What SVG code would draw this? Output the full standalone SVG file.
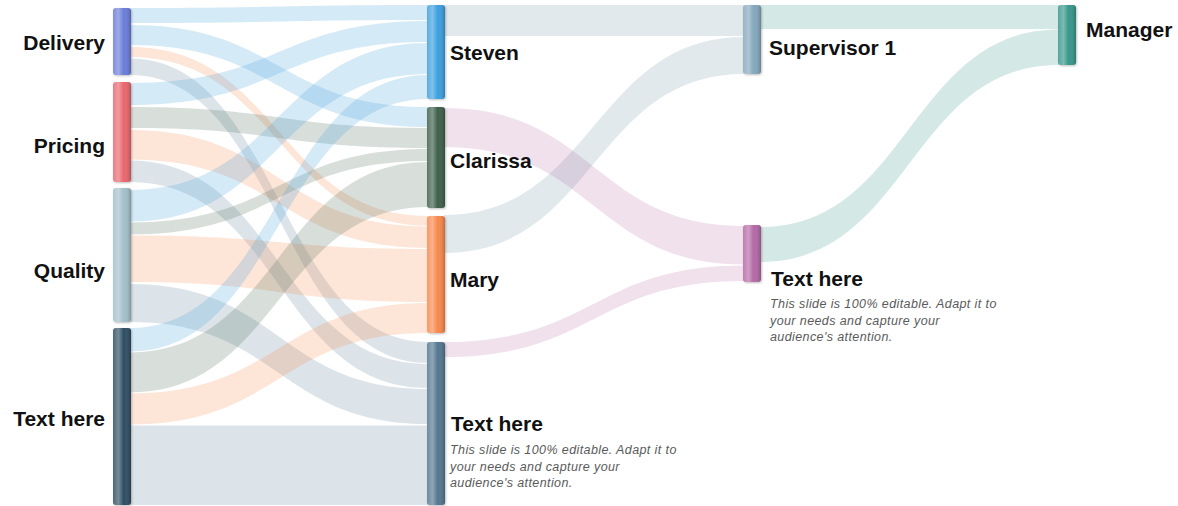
<svg xmlns="http://www.w3.org/2000/svg" width="1178" height="506" viewBox="0 0 1178 506">
<style>
.lbl{font-family:"Liberation Sans",Arial,sans-serif;font-weight:bold;font-size:21px;fill:#111}
.desc{font-family:"Liberation Sans",Arial,sans-serif;font-style:italic;font-size:12.5px;fill:#5a5a5a;letter-spacing:0.4px}
.blue{fill:#3ea1dc;fill-opacity:0.22}
.green{fill:#3e5f4a;fill-opacity:0.2}
.peach{fill:#f58a4f;fill-opacity:0.22}
.grey{fill:#56788f;fill-opacity:0.2}
.sup{fill:#9db5c4;fill-opacity:0.3}
.pink{fill:#b46aa6;fill-opacity:0.2}
.teal{fill:#3a9b8e;fill-opacity:0.22}
.shine{fill:url(#shine)}
</style>
<defs>
<linearGradient id="shine" x1="0" y1="0" x2="1" y2="0">
<stop offset="0" stop-color="#fff" stop-opacity="0.15"/>
<stop offset="0.3" stop-color="#fff" stop-opacity="0.35"/>
<stop offset="0.6" stop-color="#fff" stop-opacity="0"/>
<stop offset="1" stop-color="#000" stop-opacity="0.22"/>
</linearGradient>
<filter id="sh" x="-50%" y="-10%" width="200%" height="120%">
<feDropShadow dx="1" dy="1" stdDeviation="1" flood-color="#000" flood-opacity="0.25"/>
</filter>
</defs>
<g id="connectors">
<path class="blue" d="M130,8 C279,8 279,5 428,5 L428,20 C279,20 279,23 130,23 Z"/>
<path class="blue" d="M130,25 C279,25 279,107 428,107 L428,127 C279,127 279,45 130,45 Z"/>
<path class="peach" d="M130,47 C279,47 279,216 428,216 L428,225.5 C279,225.5 279,57 130,57 Z"/>
<path class="grey" d="M130,58.5 C279,58.5 279,342 428,342 L428,363 C279,363 279,75 130,75 Z"/>
<path class="blue" d="M130,83 C279,83 279,21 428,21 L428,42 C279,42 279,105 130,105 Z"/>
<path class="green" d="M130,107 C279,107 279,128 428,128 L428,148 C279,148 279,128 130,128 Z"/>
<path class="peach" d="M130,130 C279,130 279,226.5 428,226.5 L428,248 C279,248 279,159.5 130,159.5 Z"/>
<path class="grey" d="M130,160.5 C279,160.5 279,364 428,364 L428,388 C279,388 279,182 130,182 Z"/>
<path class="blue" d="M130,190 C279,190 279,43 428,43 L428,74 C279,74 279,221.5 130,221.5 Z"/>
<path class="green" d="M130,222.5 C279,222.5 279,149 428,149 L428,161 C279,161 279,234.5 130,234.5 Z"/>
<path class="peach" d="M130,235.5 C279,235.5 279,249 428,249 L428,302 C279,302 279,282 130,282 Z"/>
<path class="grey" d="M130,284 C279,284 279,389 428,389 L428,424 C279,424 279,322 130,322 Z"/>
<path class="blue" d="M130,328 C279,328 279,75 428,75 L428,99 C279,99 279,351.5 130,351.5 Z"/>
<path class="green" d="M130,352.5 C279,352.5 279,162 428,162 L428,207 C279,207 279,392.5 130,392.5 Z"/>
<path class="peach" d="M130,393.5 C279,393.5 279,303 428,303 L428,333 C279,333 279,424.5 130,424.5 Z"/>
<path class="grey" d="M130,425.5 L428,425.5 L428,505 L130,505 Z"/>
<path class="sup" d="M444,5 L744,5 L744,36 L444,36 Z"/>
<path class="sup" d="M444,215 C594,215 594,37 744,37 L744,74 C594,74 594,253 444,253 Z"/>
<path class="pink" d="M444,108 C594,108 594,226 744,226 L744,264.5 C594,264.5 594,147 444,147 Z"/>
<path class="pink" d="M444,342 C594,342 594,265.5 744,265.5 L744,281 C594,281 594,357 444,357 Z"/>
<path class="teal" d="M760,5 L1059,5 L1059,29 L760,29 Z"/>
<path class="teal" d="M760,227 C909.5,227 909.5,29.5 1059,29.5 L1059,65 C909.5,65 909.5,262 760,262 Z"/>
</g>
<g id="node-delivery">
<rect x="113" y="8" width="18" height="67" rx="3" fill="#6b7bd8" filter="url(#sh)"/>
<rect class="shine" x="113" y="8" width="18" height="67" rx="3"/>
<text class="lbl" x="105" y="50" text-anchor="end">Delivery</text>
</g>
<g id="node-pricing">
<rect x="113" y="82" width="18" height="100" rx="3" fill="#e8666d" filter="url(#sh)"/>
<rect class="shine" x="113" y="82" width="18" height="100" rx="3"/>
<text class="lbl" x="105" y="153" text-anchor="end">Pricing</text>
</g>
<g id="node-quality">
<rect x="113" y="188" width="18" height="134" rx="3" fill="#a3bfca" filter="url(#sh)"/>
<rect class="shine" x="113" y="188" width="18" height="134" rx="3"/>
<text class="lbl" x="105" y="278" text-anchor="end">Quality</text>
</g>
<g id="node-text-left">
<rect x="113" y="328" width="18" height="177" rx="3" fill="#2f4d62" filter="url(#sh)"/>
<rect class="shine" x="113" y="328" width="18" height="177" rx="3"/>
<text class="lbl" x="105" y="426" text-anchor="end">Text here</text>
</g>
<g id="node-steven">
<rect x="427" y="5" width="18" height="94" rx="3" fill="#3a9fde" filter="url(#sh)"/>
<rect class="shine" x="427" y="5" width="18" height="94" rx="3"/>
<text class="lbl" x="450" y="60">Steven</text>
</g>
<g id="node-clarissa">
<rect x="427" y="107" width="18" height="101" rx="3" fill="#3d5e48" filter="url(#sh)"/>
<rect class="shine" x="427" y="107" width="18" height="101" rx="3"/>
<text class="lbl" x="450" y="168">Clarissa</text>
</g>
<g id="node-mary">
<rect x="427" y="216" width="18" height="117" rx="3" fill="#f7884b" filter="url(#sh)"/>
<rect class="shine" x="427" y="216" width="18" height="117" rx="3"/>
<text class="lbl" x="450" y="287">Mary</text>
</g>
<g id="node-text-mid">
<rect x="427" y="342" width="18" height="163" rx="3" fill="#52768f" filter="url(#sh)"/>
<rect class="shine" x="427" y="342" width="18" height="163" rx="3"/>
<text class="lbl" x="451" y="431">Text here</text>
<text class="desc" x="450" y="454">This slide is 100% editable. Adapt it to</text>
<text class="desc" x="450" y="471">your needs and capture your</text>
<text class="desc" x="450" y="487">audience's attention.</text>
</g>
<g id="node-supervisor">
<rect x="743" y="5" width="18" height="69" rx="3" fill="#84a7bc" filter="url(#sh)"/>
<rect class="shine" x="743" y="5" width="18" height="69" rx="3"/>
<text class="lbl" x="769" y="55">Supervisor 1</text>
</g>
<g id="node-text-right">
<rect x="743" y="225" width="18" height="57" rx="3" fill="#b468a6" filter="url(#sh)"/>
<rect class="shine" x="743" y="225" width="18" height="57" rx="3"/>
<text class="lbl" x="771" y="286">Text here</text>
<text class="desc" x="770" y="308">This slide is 100% editable. Adapt it to</text>
<text class="desc" x="770" y="325">your needs and capture your</text>
<text class="desc" x="770" y="341">audience's attention.</text>
</g>
<g id="node-manager">
<rect x="1058" y="5" width="18" height="60" rx="3" fill="#34968a" filter="url(#sh)"/>
<rect class="shine" x="1058" y="5" width="18" height="60" rx="3"/>
<text class="lbl" x="1086" y="37">Manager</text>
</g>
</svg>
